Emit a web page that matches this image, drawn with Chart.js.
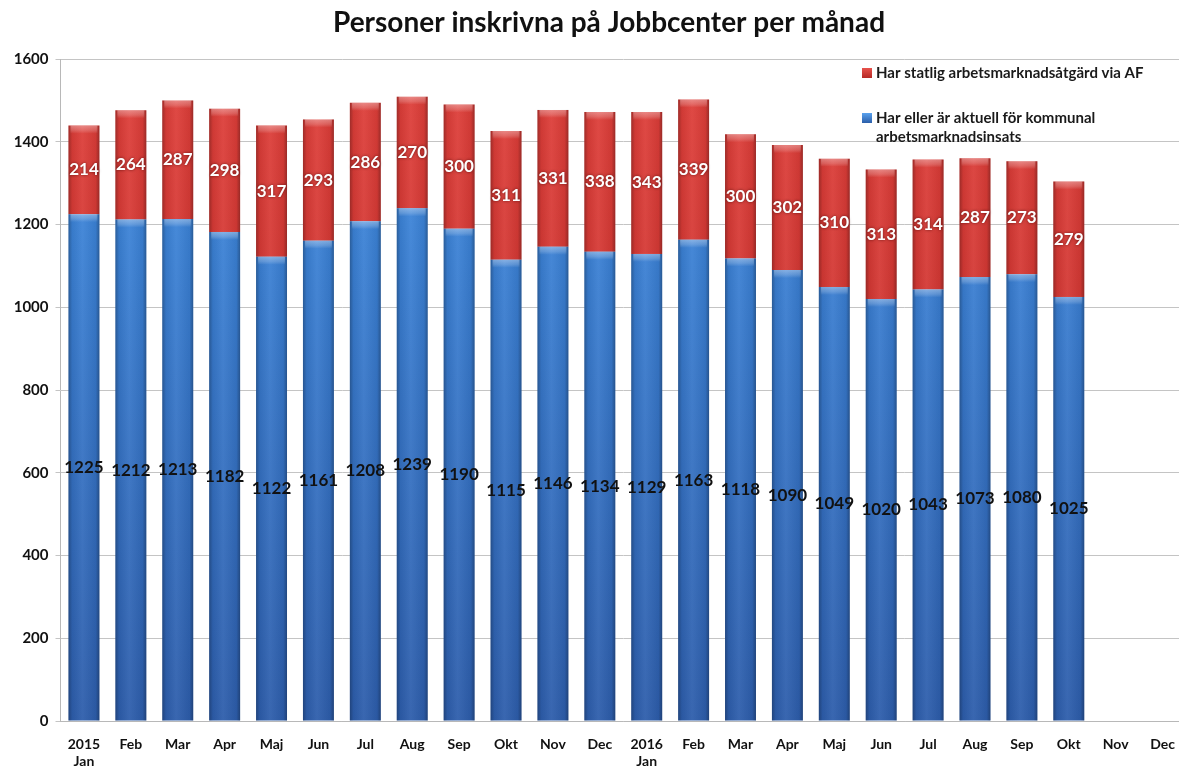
<!DOCTYPE html>
<html>
<head>
<meta charset="utf-8">
<script src="https://cdn.jsdelivr.net/npm/chart.js@4"></script>
<style>
html,body{margin:0;padding:0;background:#fff;overflow:hidden;}
#wrap{position:relative;width:1190px;height:767px;}
</style>
</head>
<body>
<div id="wrap"><canvas id="c"></canvas></div>
<script>
const chartTitle = 'Personer inskrivna på Jobbcenter per månad';
const categories = [['2015','Jan'],'Feb','Mar','Apr','Maj','Jun','Jul','Aug','Sep','Okt','Nov','Dec',
  ['2016','Jan'],'Feb','Mar','Apr','Maj','Jun','Jul','Aug','Sep','Okt','Nov','Dec'];
const kommunalLabel = 'Har eller är aktuell för kommunal arbetsmarknadsinsats';
const kommunalValues = [1225,1212,1213,1182,1122,1161,1208,1239,1190,1115,1146,1134,1129,1163,1118,1090,1049,1020,1043,1073,1080,1025,null,null];
const statligLabel = 'Har statlig arbetsmarknadsåtgärd via AF';
const statligValues = [214,264,287,298,317,293,286,270,300,311,331,338,343,339,300,302,310,313,314,287,273,279,null,null];
const yTicks = [0,200,400,600,800,1000,1200,1400,1600];

const FONT = 'Lato, "Open Sans", "Liberation Sans", sans-serif';

function vGrad(ctx, area, stops){
  const g = ctx.createLinearGradient(0, area.top, 0, area.bottom);
  stops.forEach(s => g.addColorStop(s[0], s[1]));
  return g;
}

const blueFill = (c) => {
  const a = c.chart.chartArea;
  if (!a) return '#3570c4';
  return vGrad(c.chart.ctx, a, [[0,'#4a93e6'],[0.25,'#3b82d6'],[1,'#2d5dab']]);
};
const redFill = (c) => {
  const a = c.chart.chartArea;
  if (!a) return '#cc3430';
  return vGrad(c.chart.ctx, a, [[0,'#df3f3a'],[0.5,'#cf3531'],[1,'#b82b28']]);
};

const barShading = {
  id: 'barShading',
  afterDatasetsDraw(chart){
    const ctx = chart.ctx;
    chart.data.datasets.forEach((ds, di) => {
      const meta = chart.getDatasetMeta(di);
      meta.data.forEach((el, i) => {
        if (ds.data[i] == null) return;
        const p = el.getProps(['x','y','base','width'], true);
        const left = p.x - p.width/2, top = Math.min(p.y, p.base), h = Math.abs(p.base - p.y);
        const g = ctx.createLinearGradient(left, 0, left + p.width, 0);
        g.addColorStop(0, 'rgba(0,0,0,0.28)');
        g.addColorStop(0.12, 'rgba(0,0,0,0.06)');
        g.addColorStop(0.45, 'rgba(255,255,255,0.06)');
        g.addColorStop(0.88, 'rgba(0,0,0,0.06)');
        g.addColorStop(1, 'rgba(0,0,0,0.3)');
        ctx.save();
        ctx.fillStyle = g;
        ctx.fillRect(left, top, p.width, h);
        const bh = Math.min(8, h);
        const g2 = ctx.createLinearGradient(0, top, 0, top + bh);
        g2.addColorStop(0, 'rgba(255,255,255,0.35)');
        g2.addColorStop(0.6, 'rgba(255,255,255,0.18)');
        g2.addColorStop(1, 'rgba(255,255,255,0)');
        ctx.fillStyle = g2;
        ctx.fillRect(left + 2, top, p.width - 4, bh);
        ctx.restore();
      });
    });
  }
};

const dataLabels = {
  id: 'dataLabels',
  afterDatasetsDraw(chart){
    const ctx = chart.ctx;
    chart.data.datasets.forEach((ds, di) => {
      const meta = chart.getDatasetMeta(di);
      meta.data.forEach((el, i) => {
        const v = ds.data[i];
        if (v == null) return;
        const p = el.getProps(['x','y','base'], true);
        const cy = (p.y + p.base) / 2;
        ctx.save();
        ctx.font = 'bold 17px ' + FONT;
        ctx.textAlign = 'center';
        ctx.textBaseline = 'middle';
        if (ds.labelColor === '#ffffff') {
          ctx.shadowColor = 'rgba(60,0,0,0.7)';
          ctx.shadowBlur = 3;
        }
        ctx.fillStyle = ds.labelColor;
        ctx.fillText(String(v), p.x, cy);
        ctx.restore();
      });
    });
  }
};

const titleAndLegend = {
  id: 'titleAndLegend',
  afterDraw(chart){
    const ctx = chart.ctx;
    ctx.save();
    ctx.font = 'bold 28px ' + FONT;
    ctx.fillStyle = '#111';
    ctx.textAlign = 'center';
    ctx.textBaseline = 'middle';
    ctx.fillText(chartTitle, 609, 23);
    const items = [
      {lines: [statligLabel], y: 73, col: ['#e8524c','#b52925']},
      {lines: ['Har eller är aktuell för kommunal','arbetsmarknadsinsats'], y: 118, col: ['#5aa2ee','#2b5ea9']}
    ];
    ctx.font = 'bold 15px ' + FONT;
    ctx.textAlign = 'left';
    items.forEach(it => {
      const g = ctx.createLinearGradient(0, it.y - 5, 0, it.y + 5);
      g.addColorStop(0, it.col[0]); g.addColorStop(1, it.col[1]);
      ctx.fillStyle = g;
      ctx.fillRect(862, it.y - 5, 10, 10);
      ctx.fillStyle = '#1a1a1a';
      it.lines.forEach((ln, k) => ctx.fillText(ln, 876, it.y + k * 19));
    });
    ctx.restore();
  }
};

new Chart(document.getElementById('c'), {
  type: 'bar',
  data: {
    labels: categories,
    datasets: [
      {label: kommunalLabel, data: kommunalValues, backgroundColor: blueFill, labelColor: '#111111',
       barPercentage: 0.66, categoryPercentage: 1.0, borderWidth: 0},
      {label: statligLabel, data: statligValues, backgroundColor: redFill, labelColor: '#ffffff',
       barPercentage: 0.66, categoryPercentage: 1.0, borderWidth: 0}
    ]
  },
  options: {
    responsive: true,
    maintainAspectRatio: false,
    animation: false,
    layout: {padding: {top: 59, right: 1.5, bottom: 0, left: 0}},
    plugins: {legend: {display: false}, title: {display: false}, tooltip: {enabled: false}},
    scales: {
      x: {
        stacked: true,
        grid: {display: false, drawTicks: false},
        border: {display: true, color: '#b8b8b8', width: 1},
        ticks: {color: '#111', font: {family: FONT, size: 14, weight: 'bold'}, padding: 15, maxRotation: 0, autoSkip: false},
        afterFit(s){ s.height = 46; }
      },
      y: {
        stacked: true,
        min: 0, max: 1600,
        afterBuildTicks(s){ s.ticks = yTicks.map(v => ({value: v})); },
        grid: {color: '#c4c4c4', lineWidth: 1, tickLength: 5},
        border: {display: true, color: '#b8b8b8', width: 1},
        ticks: {color: '#111', font: {family: FONT, size: 15, weight: 'bold'}, padding: 7,
                callback: (v) => String(v)},
        afterFit(s){ s.width = 60.5; }
      }
    }
  },
  plugins: [barShading, dataLabels, titleAndLegend]
});
</script>
</body>
</html>
